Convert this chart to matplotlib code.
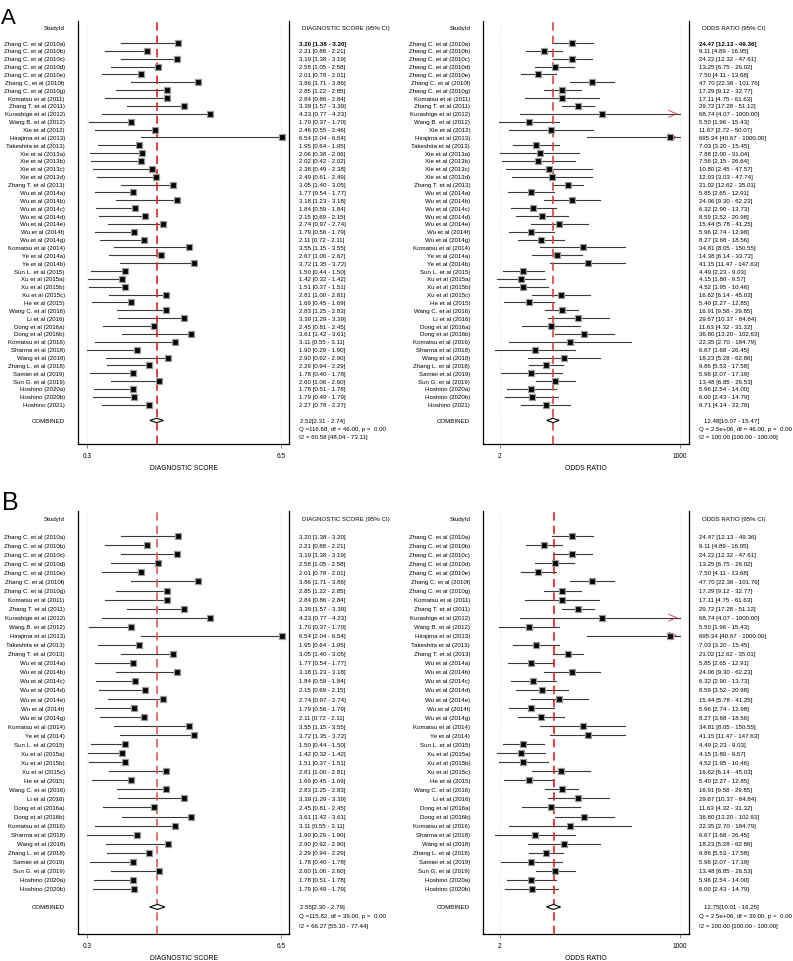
import matplotlib.pyplot as plt
from matplotlib.ticker import FixedLocator, FixedFormatter

plt.rcParams['font.family'] = ['Liberation Sans', 'DejaVu Sans']

# ------- STUDY DATA (panel A, all studies) -------
studies = [
    "Zhang C. et al (2010a)", "Zhang C. et al (2010b)", "Zhang C. et al (2010c)",
    "Zhang C. et al (2010d)", "Zhang C. et al (2010e)", "Zhang C. et al (2010f)",
    "Zhang C. et al (2010g)", "Komatsu et al (2011)", "Zhang T. et al (2011)",
    "Kurashige et al (2012)", "Wang B. et al (2012)", "Xie et al (2012)",
    "Hirajima et al (2013)", "Takeshita et al (2013)", "Xie et al (2013a)",
    "Xie et al (2013b)", "Xie et al (2013c)", "Xie et al (2013d)",
    "Zhang T. et al (2013)", "Wu et al (2014a)", "Wu et al (2014b)",
    "Wu et al (2014c)", "Wu et al (2014d)", "Wu et al (2014e)",
    "Wu et al (2014f)", "Wu et al (2014g)", "Komatsu et al (2014)",
    "Ye et al (2014a)", "Ye et al (2014b)", "Sun L. et al (2015)",
    "Xu et al (2015a)", "Xu et al (2015b)", "Xu et al (2015c)",
    "He et al (2015)", "Wang C. et al (2016)", "Li et al (2016)",
    "Dong et al (2016a)", "Dong et al (2016b)", "Komatsu et al (2016)",
    "Sharma et al (2018)", "Wang et al (2018)", "Zhang L. et al (2018)",
    "Samiei et al (2019)", "Sun G. et al (2019)", "Hoshino (2020a)",
    "Hoshino (2020b)", "Hoshino (2021)",
]

# diagnostic score (upper bound printed equal to the estimate)
ds_est = [3.20, 2.21, 3.19, 2.58, 2.01, 3.86, 2.85, 2.84, 3.39, 4.23, 1.70, 2.46,
          6.54, 1.95, 2.06, 2.02, 2.38, 2.49, 3.05, 1.77, 3.18, 1.84, 2.15, 2.74,
          1.79, 2.11, 3.55, 2.67, 3.72, 1.50, 1.42, 1.51, 2.81, 1.69, 2.83, 3.39,
          2.45, 3.61, 3.11, 1.90, 2.90, 2.29, 1.78, 2.60, 1.78, 1.79, 2.27]
ds_lo = [1.38, 0.88, 1.38, 1.05, 0.78, 1.71, 1.22, 0.86, 1.57, 0.77, 0.37, 0.55,
         2.04, 0.64, 0.38, 0.42, 0.49, 0.61, 1.40, 0.54, 1.23, 0.59, 0.69, 0.97,
         0.56, 0.72, 1.15, 1.00, 1.35, 0.44, 0.32, 0.37, 1.00, 0.45, 1.25, 1.29,
         0.81, 1.42, 0.55, 0.29, 0.92, 0.94, 0.40, 1.06, 0.51, 0.49, 0.78]

# odds ratio
or_est = [24.47, 9.11, 24.22, 13.25, 7.50, 47.70, 17.29, 17.11, 29.72, 68.74, 5.50,
          11.67, 695.34, 7.03, 7.88, 7.56, 10.80, 12.03, 21.02, 5.85, 24.06, 6.32,
          8.59, 15.44, 5.96, 8.27, 34.81, 14.38, 41.15, 4.49, 4.15, 4.52, 16.62,
          5.40, 16.91, 29.67, 11.63, 36.80, 22.35, 6.67, 18.23, 9.86, 5.96, 13.48,
          5.96, 6.00, 9.71]
or_lo = [12.13, 4.89, 12.32, 6.75, 4.11, 22.36, 9.12, 4.75, 17.28, 4.07, 1.96, 2.72,
         40.67, 3.20, 2.00, 2.15, 2.45, 3.03, 12.62, 2.65, 9.30, 2.90, 3.52, 5.78,
         2.74, 3.68, 8.05, 6.14, 11.47, 2.23, 1.80, 1.95, 6.14, 2.27, 9.58, 10.37,
         4.32, 13.20, 2.70, 1.68, 5.28, 5.53, 2.07, 6.85, 2.54, 2.43, 4.14]
or_hi = [49.36, 16.95, 47.61, 26.02, 13.68, 101.76, 32.77, 61.63, 51.12, 1000.00,
         15.43, 50.07, 1000.00, 15.45, 31.04, 26.64, 47.57, 47.74, 35.01, 12.91,
         62.23, 13.73, 20.98, 41.25, 12.98, 18.56, 150.55, 33.72, 147.63, 9.03,
         9.57, 10.46, 45.03, 12.85, 29.85, 84.84, 31.32, 102.63, 184.79, 26.45,
         62.86, 17.58, 17.19, 26.53, 14.00, 14.79, 22.76]

# panel B leaves out these studies
b_drop = ["Xie et al (2012)", "Xie et al (2013a)", "Xie et al (2013b)",
          "Xie et al (2013c)", "Xie et al (2013d)", "Ye et al (2014a)", "Hoshino (2021)"]
b_rename = {"Ye et al (2014b)": "Ye et al (2014)"}

# pooled results [estimate, lower, upper]
a_ds_pool = [2.52, 2.31, 2.74]
a_or_pool = [12.48, 10.07, 15.47]
b_ds_pool = [2.55, 2.30, 2.79]
b_or_pool = [12.75, 10.01, 16.25]
a_ds_stats = ["Q =116.68, df = 46.00, p =  0.00", "I2 = 60.58 [48.04 - 73.11]"]
a_or_stats = ["Q = 2.5e+06, df = 46.00, p =  0.00", "I2 = 100.00 [100.00 - 100.00]"]
b_ds_stats = ["Q =115.82, df = 39.00, p =  0.00", "I2 = 66.27 [55.10 - 77.44]"]
b_or_stats = ["Q = 2.5e+06, df = 39.00, p =  0.00", "I2 = 100.00 [100.00 - 100.00]"]

FS = 4.4


def forest(ax, labels, est, lo, hi, pool, stats, kind, bold_first, red):
    n = len(labels)
    rows = list(range(n))
    comb = n + 1
    ax.set_ylim(n + 4, -2.8)
    if kind == "ds":
        ax.set_xlim(0.012, 6.756)
        ticks, ticklabels = [0.3, 6.5], ["0.3", "6.5"]
        xlab, head = "DIAGNOSTIC SCORE", "DIAGNOSTIC SCORE (95% CI)"
        comb_x = 1.052
    else:
        ax.set_xscale("log")
        ax.set_xlim(1.12, 1363)
        ticks, ticklabels = [2, 1000], ["2", "1000"]
        xlab, head = "ODDS RATIO", "ODDS RATIO (95% CI)"
        comb_x = 1.073
    ax.xaxis.set_major_locator(FixedLocator(ticks))
    ax.xaxis.set_major_formatter(FixedFormatter(ticklabels))
    ax.xaxis.set_minor_locator(FixedLocator([]))
    ax.grid(axis="x", color="#e6e6e6", ls="--", lw=0.5)
    ax.set_yticks([])

    ax.spines["top"].set_visible(False)
    for s in ["left", "right", "bottom"]:
        ax.spines[s].set_linewidth(0.9)
    ax.tick_params(axis="x", length=3, width=0.5, labelsize=FS + 0.3, pad=2.5, color="#555555")
    ax.set_xlabel(xlab, fontsize=FS + 0.5, labelpad=3.5)

    # CI lines and squares
    for i in rows:
        upper = hi[i]
        ax.plot([lo[i], min(upper, 1000)], [i, i], color="#3a3a3a", lw=0.8, zorder=2)
        if kind == "or" and upper >= 1000:
            ax.annotate("", xy=(upper, i), xytext=(upper / 1.3, i),
                        arrowprops=dict(arrowstyle="->,head_length=0.55,head_width=0.25",
                                        color="#c8324e", lw=0.6), zorder=3)
    ax.plot(est, rows, ls="none", marker="s", ms=3.8, mfc="black", mec="#9a9a9a",
            mew=0.9, zorder=4)

    # pooled diamond
    p, plo, phi = pool
    ax.fill([plo, p, phi, p, plo], [comb, comb - 0.28, comb, comb + 0.28, comb],
            facecolor="white", edgecolor="black", lw=0.8, zorder=5)
    ax.axvline(p, color=red, ls=(0, (5, 3)), lw=1.2, zorder=3)

    tr = ax.get_yaxis_transform()
    ax.text(-0.062, -2, "StudyId", transform=tr, ha="right", va="center", fontsize=FS)
    ax.text(1.062, -2, head, transform=tr, ha="left", va="center", fontsize=FS)
    for i in rows:
        ax.text(-0.062, i, labels[i], transform=tr, ha="right", va="center", fontsize=FS)
        fw = "bold" if (bold_first and i == 0) else "normal"
        ax.text(1.047, i, f"{est[i]:.2f} [{lo[i]:.2f} - {hi[i]:.2f}]", transform=tr,
                ha="left", va="center", fontsize=FS, fontweight=fw)
    ax.text(-0.062, comb, "COMBINED", transform=tr, ha="right", va="center", fontsize=FS)
    ax.text(comb_x, comb, f"{p:.2f}[{plo:.2f} - {phi:.2f}]", transform=tr,
            ha="left", va="center", fontsize=FS)
    ax.text(1.047, comb + 1, stats[0], transform=tr, ha="left", va="center", fontsize=FS)
    ax.text(1.047, comb + 2, stats[1], transform=tr, ha="left", va="center", fontsize=FS)


fig = plt.figure(figsize=(7.93, 9.62), dpi=100)

# ------- PANEL A -------
ax1 = fig.add_axes([0.0984, 0.5374, 0.2661, 0.4397])
ax2 = fig.add_axes([0.6091, 0.5374, 0.2598, 0.4397])
forest(ax1, studies, ds_est, ds_lo, ds_est, a_ds_pool, a_ds_stats, "ds", True, "#e02020")
forest(ax2, studies, or_est, or_lo, or_hi, a_or_pool, a_or_stats, "or", True, "#e04040")

# ------- PANEL B -------
keep = [i for i, s in enumerate(studies) if s not in b_drop]
b_labels = [b_rename.get(studies[i], studies[i]) for i in keep]
ax3 = fig.add_axes([0.0984, 0.0280, 0.2661, 0.4398])
ax4 = fig.add_axes([0.6091, 0.0280, 0.2598, 0.4398])
forest(ax3, b_labels, [ds_est[i] for i in keep], [ds_lo[i] for i in keep],
       [ds_est[i] for i in keep], b_ds_pool, b_ds_stats, "ds", False, "#e05555")
forest(ax4, b_labels, [or_est[i] for i in keep], [or_lo[i] for i in keep],
       [or_hi[i] for i in keep], b_or_pool, b_or_stats, "or", False, "#e02020")

fig.text(0.001, 0.992, "A", fontsize=16, ha="left", va="top")
fig.text(0.003, 0.490, "B", fontsize=18, ha="left", va="top")

plt.savefig("out.png", dpi=100)
